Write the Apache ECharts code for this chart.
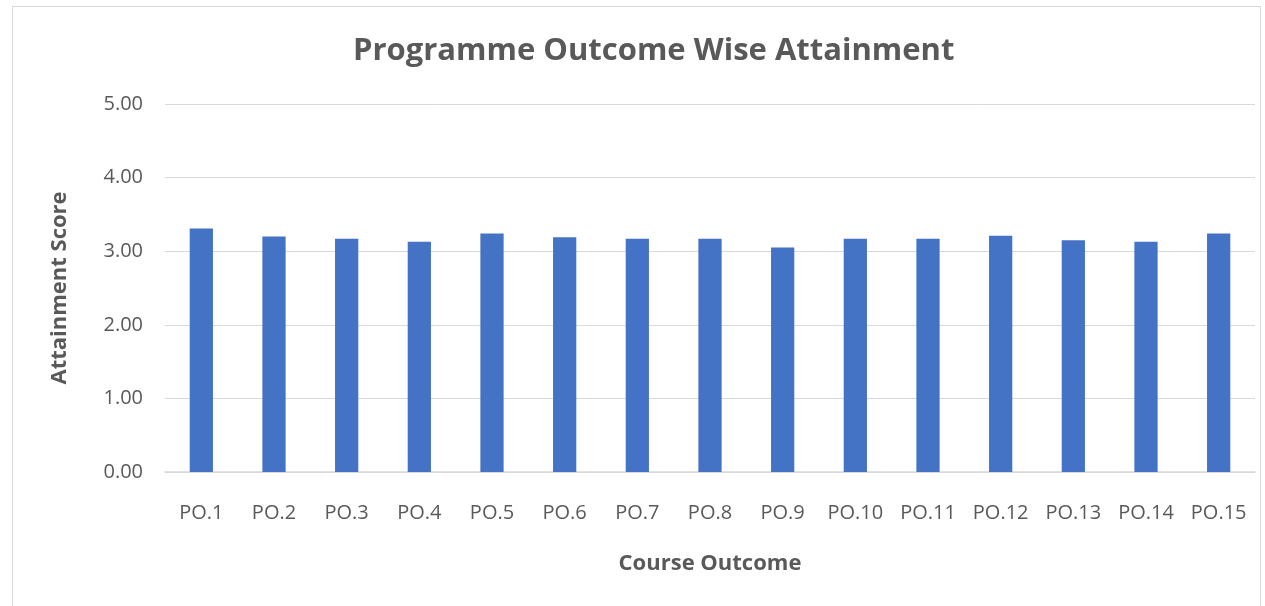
<!DOCTYPE html>
<html><head><meta charset="utf-8">
<script src="https://cdn.jsdelivr.net/npm/echarts@6/dist/echarts.min.js"></script>
<style>
html,body{margin:0;padding:0;background:#fff;}
#frame{position:absolute;left:12px;top:6px;width:1249px;height:610px;border:1px solid #d9d9d9;box-sizing:border-box;}
#c{position:absolute;left:0;top:0;width:1265px;height:606px;}
</style></head>
<body><div id="frame"></div><div id="c"></div>
<script>
const categories = ['PO.1','PO.2','PO.3','PO.4','PO.5','PO.6','PO.7','PO.8','PO.9','PO.10','PO.11','PO.12','PO.13','PO.14','PO.15'];
const values = [3.31,3.20,3.17,3.13,3.24,3.19,3.17,3.17,3.05,3.17,3.17,3.21,3.15,3.13,3.24];
const titleText = 'Programme Outcome Wise Attainment';
const xName = 'Course Outcome';
const yName = 'Attainment Score';
const font = '"Open Sans", "Noto Sans", sans-serif';
const chart = echarts.init(document.getElementById('c'), null, {renderer:'canvas'});
chart.setOption({
  animation:false,
  title:{text:titleText,left:348,top:31,textStyle:{fontFamily:font,fontSize:31,fontWeight:'bold',color:'#595959'}},
  grid:{left:165,right:10,top:104,bottom:134,containLabel:false},
  xAxis:{type:'category',data:categories,
    name:xName,nameLocation:'middle',nameGap:81,
    nameTextStyle:{fontFamily:font,fontSize:22,fontWeight:'bold',color:'#595959'},
    axisLine:{lineStyle:{color:'#d9d9d9',width:1.5}},axisTick:{show:false},
    axisLabel:{fontFamily:font,fontSize:20,color:'#595959',margin:31,interval:0}},
  yAxis:{type:'value',min:0,max:5,interval:1,
    name:yName,nameLocation:'middle',nameGap:94,nameRotate:90,
    nameTextStyle:{fontFamily:font,fontSize:22,fontWeight:'bold',color:'#595959'},
    axisLine:{show:false},axisTick:{show:false},
    axisLabel:{fontFamily:font,fontSize:20,color:'#595959',margin:22,formatter:v=>v.toFixed(2)},
    splitLine:{lineStyle:{color:'#d9d9d9',width:1}}},
  series:[{type:'bar',data:values,barWidth:'32%',itemStyle:{color:'#4472c4'}}]
});
</script></body></html>
